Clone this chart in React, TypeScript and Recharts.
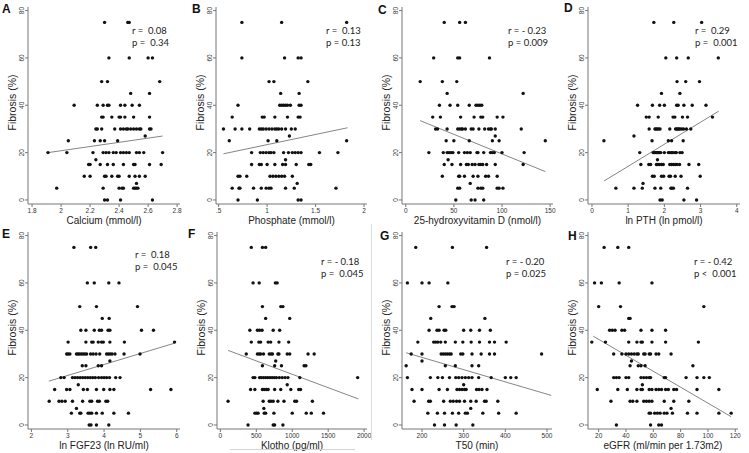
import React from 'react';
import { ScatterChart, Scatter, XAxis, YAxis, ReferenceLine, Label } from 'recharts';

// each row: [fibrosis %, x values of the biopsies at that level]
type Row = [number, number[]];

const calciumRows: Row[] = [
  [75, [2.3, 2.46, 2.47]],
  [60, [2.33, 2.47, 2.6, 2.63]],
  [50, [2.28, 2.32, 2.68]],
  [45, [2.48, 2.61]],
  [40, [2.09, 2.25, 2.29, 2.32, 2.33, 2.41, 2.44, 2.49, 2.54]],
  [35, [2.28, 2.29, 2.35, 2.4, 2.41, 2.44, 2.5, 2.61]],
  [30, [2.24, 2.25, 2.28, 2.37, 2.41, 2.43, 2.45, 2.46, 2.48, 2.5, 2.52, 2.54, 2.55, 2.61, 2.62]],
  [27, [2.58]],
  [25, [2.05, 2.23, 2.27, 2.3, 2.39]],
  [20, [1.91, 2.04, 2.22, 2.29, 2.31, 2.33, 2.36, 2.38, 2.41, 2.43, 2.45, 2.47, 2.52, 2.54, 2.57, 2.7]],
  [17, [2.24]],
  [15, [2.19, 2.2, 2.27, 2.32, 2.36, 2.43, 2.5, 2.51, 2.61, 2.69]],
  [10, [2.16, 2.2, 2.3, 2.31, 2.35, 2.39, 2.4, 2.47, 2.51, 2.54, 2.58]],
  [7, [2.52]],
  [5, [1.97, 2.29, 2.4, 2.42, 2.43, 2.5, 2.51, 2.52, 2.53]],
  [0, [2.3, 2.32, 2.41, 2.63]],
];

const phosphateRows: Row[] = [
  [75, [0.74, 1.15, 1.82]],
  [60, [0.74, 1.18, 1.32, 1.35]],
  [50, [1.02, 1.07, 1.42]],
  [45, [1.14, 1.33]],
  [40, [0.7, 1.13, 1.15, 1.17, 1.19, 1.21, 1.24, 1.33, 1.35]],
  [35, [0.64, 0.95, 0.97, 1.08, 1.21, 1.32, 1.34]],
  [30, [0.55, 0.67, 0.74, 0.82, 0.92, 0.94, 0.96, 0.99, 1.02, 1.05, 1.08, 1.1, 1.12, 1.15, 1.19, 1.25, 1.29]],
  [27, [1.23]],
  [25, [0.61, 1.01, 1.1, 1.82]],
  [20, [0.84, 0.93, 0.96, 0.99, 1.02, 1.04, 1.07, 1.17, 1.22, 1.26, 1.29, 1.32, 1.35, 1.54, 1.73]],
  [17, [1.19]],
  [15, [0.84, 0.92, 0.94, 1.0, 1.08, 1.16, 1.19, 1.3, 1.43, 1.45]],
  [10, [0.7, 0.72, 0.79, 1.03, 1.06, 1.09, 1.12, 1.15, 1.18, 1.26]],
  [7, [1.31]],
  [5, [0.64, 0.71, 0.72, 0.86, 0.94, 0.99, 1.02, 1.04, 1.19, 1.28, 1.71]],
  [0, [0.7, 0.9, 1.32, 1.35]],
];

const vitaminDRows: Row[] = [
  [75, [40, 56, 62]],
  [60, [29, 54, 56, 87]],
  [50, [15, 38, 53]],
  [45, [43, 122]],
  [40, [35, 46, 54, 66, 73, 75, 77, 79]],
  [35, [28, 36, 57, 71, 78, 80, 95, 101]],
  [30, [31, 33, 43, 54, 56, 58, 59, 62, 68, 70, 76, 82, 86, 88, 89, 93, 120]],
  [27, [93]],
  [25, [42, 50, 66, 90, 97, 145]],
  [20, [24, 39, 43, 45, 47, 49, 55, 61, 64, 67, 74, 75, 81, 88, 90, 92, 100, 123]],
  [17, [44]],
  [15, [40, 48, 57, 63, 65, 69, 72, 76, 78, 80, 84, 93, 122]],
  [10, [38, 55, 56, 61, 70, 75, 83, 86, 95]],
  [7, [67]],
  [5, [54, 56, 75, 78, 80, 95, 97, 101]],
  [0, [52, 68, 72, 81]],
];

const pthRows: Row[] = [
  [75, [1.71, 2.26, 3.03]],
  [60, [2.04, 2.34, 2.66, 3.49]],
  [50, [2.35, 2.59, 2.97]],
  [45, [1.92, 2.43]],
  [40, [1.26, 1.67, 1.87, 2.0, 2.34, 2.38, 2.54, 2.77, 3.15]],
  [35, [1.5, 1.58, 1.83, 2.24, 2.29, 2.5, 2.64, 3.33]],
  [30, [1.58, 1.74, 1.77, 1.8, 1.84, 1.88, 2.15, 2.31, 2.34, 2.37, 2.4, 2.43, 2.48, 2.53, 2.61, 2.73]],
  [27, [1.16]],
  [25, [0.33, 1.66, 2.11, 2.2, 2.52]],
  [20, [1.32, 1.69, 1.72, 1.75, 1.78, 1.81, 1.84, 1.87, 1.9, 2.0, 2.11, 2.15, 2.2, 2.24, 2.3, 2.33, 2.43, 2.49]],
  [17, [1.81]],
  [15, [1.35, 1.57, 1.62, 1.78, 1.82, 1.86, 1.92, 1.97, 2.15, 2.2, 2.25, 2.3, 2.35, 2.42, 2.68, 2.95]],
  [10, [1.67, 1.72, 1.92, 1.98, 2.13, 2.17, 2.3, 2.46, 2.99]],
  [7, [1.41]],
  [5, [0.66, 1.16, 1.39, 1.74, 1.9, 2.18, 2.21, 2.25, 2.64]],
  [0, [1.88, 1.94, 2.54, 2.89]],
];

const fgf23Rows: Row[] = [
  [75, [3.17, 3.63, 3.77]],
  [60, [3.54, 3.73, 4.13, 4.41]],
  [50, [3.33, 3.79, 4.92]],
  [45, [3.95, 4.14]],
  [40, [3.36, 3.5, 3.73, 3.87, 3.93, 4.11, 4.16, 5.03, 5.36]],
  [35, [3.01, 3.5, 3.66, 3.7, 3.84, 3.93, 3.98, 4.16, 4.56, 5.94]],
  [30, [2.97, 3.01, 3.06, 3.24, 3.28, 3.32, 3.37, 3.42, 3.47, 3.52, 3.63, 3.7, 3.78, 3.88, 4.07, 4.12, 4.17, 4.22, 4.3, 4.55, 4.99]],
  [27, [4.16]],
  [25, [3.4, 3.5, 3.84, 3.93]],
  [20, [2.81, 2.9, 3.13, 3.2, 3.27, 3.34, 3.41, 3.48, 3.55, 3.62, 3.69, 3.76, 3.85, 3.93, 4.0, 4.07, 4.15, 4.32, 4.44]],
  [17, [3.29]],
  [15, [2.64, 2.97, 3.06, 3.43, 3.54, 3.79, 3.99, 4.16, 4.27, 5.28, 5.84]],
  [10, [2.49, 2.76, 2.84, 2.93, 3.13, 3.41, 3.61, 3.66, 3.82, 3.87, 4.05, 4.1]],
  [7, [3.24]],
  [5, [3.1, 3.33, 3.36, 3.56, 3.61, 3.66, 3.79, 3.95, 4.27, 4.67]],
  [0, [3.59, 3.64, 3.79, 4.13]],
];

const klothoRows: Row[] = [
  [75, [430, 585, 630]],
  [60, [455, 540, 765, 790]],
  [50, [585, 840, 870]],
  [45, [630, 965]],
  [40, [410, 515, 545, 580, 735, 825]],
  [35, [430, 535, 560, 665, 700, 815, 950]],
  [30, [360, 515, 540, 560, 600, 680, 705, 725, 800, 815, 930, 965, 1220, 1305]],
  [27, [770]],
  [25, [585, 755, 850, 1165, 1190]],
  [20, [455, 480, 545, 570, 600, 630, 660, 690, 720, 750, 780, 820, 860, 900, 940, 1105, 1910]],
  [17, [930]],
  [15, [420, 480, 585, 610, 640, 665, 755, 840, 980, 1090, 1115]],
  [10, [107, 595, 680, 705, 735, 800, 885, 1035, 1060, 1280]],
  [7, [605]],
  [5, [480, 505, 525, 610, 630, 745, 1000, 1195, 1265, 1435]],
  [0, [385, 735, 755, 870]],
];

const t50Rows: Row[] = [
  [75, [185, 273, 355]],
  [60, [165, 200, 217, 262]],
  [50, [241, 272, 277]],
  [45, [221, 351]],
  [40, [217, 236, 241, 253, 257, 300, 317, 338, 364]],
  [35, [190, 228, 233, 238, 245, 256, 280, 298, 318, 338, 362, 374, 402]],
  [30, [174, 200, 246, 251, 256, 261, 266, 270, 293, 298, 320, 342, 362, 374, 487]],
  [27, [200]],
  [25, [162, 256, 280, 320, 336]],
  [20, [165, 220, 238, 249, 266, 281, 288, 296, 304, 312, 320, 336, 366, 400, 413, 426]],
  [17, [300]],
  [15, [176, 200, 241, 261, 284, 290, 296, 302, 306, 331, 337, 344, 356]],
  [10, [181, 216, 220, 252, 268, 275, 283, 290, 302, 317, 330, 350, 354, 382]],
  [7, [317]],
  [5, [214, 237, 254, 273, 288, 304, 309, 346, 384, 426]],
  [0, [230, 254, 282, 322]],
];

const egfrRows: Row[] = [
  [75, [24, 34, 42]],
  [60, [17, 22, 35, 59]],
  [50, [20, 36, 97]],
  [45, [42, 43]],
  [40, [28, 30, 32, 37, 39, 51, 59, 69]],
  [35, [15, 25, 42, 48, 51, 52, 59, 69, 93]],
  [30, [31, 37, 40, 42, 44, 46, 48, 49, 53, 54, 57, 58, 62, 64, 73]],
  [27, [44]],
  [25, [43, 49, 51, 54, 89]],
  [20, [31, 33, 35, 40, 42, 51, 53, 55, 57, 58, 68, 69, 84, 92, 97, 101]],
  [17, [52]],
  [15, [19, 34, 41, 48, 51, 52, 57, 59, 62, 64, 66, 69, 71, 75, 77, 92, 108]],
  [10, [29, 43, 45, 48, 53, 55, 57, 59, 68, 75, 86]],
  [7, [73]],
  [5, [57, 58, 61, 63, 65, 68, 70, 74, 85, 92, 108, 117]],
  [0, [33, 58, 64, 66]],
];

// fitted regression lines: [x1, y1, x2, y2]
const fitLines: [number, number, number, number][] = [
  [1.91, 20, 2.7, 27],
  [0.55, 19.5, 1.83, 30.5],
  [15, 33.5, 145, 12],
  [0.33, 8, 3.5, 37.5],
  [2.48, 18.5, 5.93, 34.5],
  [107, 31.5, 1920, 11],
  [162, 30.5, 510, 12.5],
  [16, 37.5, 117, 3.5],
];

const xTicks = [
  [1.8, 2, 2.2, 2.4, 2.6, 2.8],
  [0.5, 1, 1.5, 2],
  [0, 50, 100, 150],
  [0, 1, 2, 3, 4],
  [2, 3, 4, 5, 6],
  [0, 500, 1000, 1500, 2000],
  [200, 300, 400, 500],
  [20, 40, 60, 80, 100, 120],
];
const yTicks = [0, 20, 40, 60, 80];

const letters = ['A', 'B', 'C', 'D', 'E', 'F', 'G', 'H'];
const xTitles = [
  'Calcium (mmol/l)',
  'Phosphate (mmol/l)',
  '25-hydroxyvitamin D (nmol/l)',
  'ln PTH (ln pmol/l)',
  'ln FGF23 (ln RU/ml)',
  'Klotho (pg/ml)',
  'T50 (min)',
  'eGFR (ml/min per 1.73m2)',
];
const yTitle = 'Fibrosis (%)';
const rTexts = ['r =  0.08', 'r =  0.13', 'r = - 0.23', 'r =  0.29', 'r =  0.18', 'r = - 0.18', 'r = - 0.20', 'r = - 0.42'];
const pTexts = ['p =  0.34', 'p = 0.13', 'p = 0.009', 'p =  0.001', 'p =  0.045', 'p =  0.045', 'p = 0.025', 'p <  0.001'];

const rowsList = [calciumRows, phosphateRows, vitaminDRows, pthRows, fgf23Rows, klothoRows, t50Rows, egfrRows];

// layout for each panel: y-axis x position, x domain, plot width, row, text spots
const layout = [
  { axisX: 28, domain: [1.772, 2.82], w: 152, row: 0, letter: [6, 9], stat: [132, 31] },
  { axisX: 216, domain: [0.473, 2.03], w: 151, row: 0, letter: [196, 9], stat: [326, 31] },
  { axisX: 402, domain: [-3.9, 153], w: 151, row: 0, letter: [382, 10], stat: [508, 31] },
  { axisX: 588, domain: [-0.11, 4.09], w: 152, row: 0, letter: [568, 8], stat: [695, 31] },
  { axisX: 28, domain: [1.906, 6.09], w: 152, row: 1, letter: [6, 234], stat: [135, 255] },
  { axisX: 217, domain: [-47, 2040], w: 150, row: 1, letter: [192, 234], stat: [321, 262] },
  { axisX: 402, domain: [152, 512], w: 150, row: 1, letter: [384, 236], stat: [506, 262] },
  { axisX: 588, domain: [12.2, 122], w: 150, row: 1, letter: [572, 236], stat: [694, 262] },
];

const AXIS = '#777';
const fmt = (v: number) => String(v).replace(/^0\./, '.');

const Dot = (props: any) => <circle cx={props.cx} cy={props.cy} r={1.7} fill="#111" />;

const YTick = (props: any) => {
  const { x, y, payload } = props;
  return (
    <text x={x} y={y} transform={`rotate(-90 ${x} ${y})`} textAnchor="middle" dominantBaseline="central" fontSize={6.5} fill="#333">
      {payload.value}
    </text>
  );
};

const PLOT_H = 197;

const Panel = ({ i }: { i: number }) => {
  const L = layout[i];
  const data = rowsList[i].flatMap(([y, xs]) => xs.map((x) => ({ x, y })));
  const [x1, y1, x2, y2] = fitLines[i];
  const W = 30 + L.w + 10;
  const H = 2 + PLOT_H + 24;
  const top = L.row === 0 ? 5 : 230;
  const ty = 2 + PLOT_H / 2 - 3;
  return (
    <div style={{ position: 'absolute', left: L.axisX - 30, top, width: W, height: H }}>
      <ScatterChart width={W} height={H} margin={{ top: 2, right: 10, left: 0, bottom: 0 }}>
        <XAxis
          type="number"
          dataKey="x"
          domain={L.domain}
          ticks={xTicks[i]}
          interval={0}
          allowDataOverflow
          tickFormatter={fmt}
          tickSize={3}
          tickMargin={1}
          height={24}
          stroke={AXIS}
          tick={{ fontSize: 6.5, fill: '#333' }}
        >
          <Label value={xTitles[i]} position="insideBottom" offset={4} fontSize={10} fill="#222" />
        </XAxis>
        <YAxis
          type="number"
          dataKey="y"
          domain={[-1.7, 81.5]}
          ticks={yTicks}
          interval={0}
          allowDataOverflow
          width={30}
          tickSize={3}
          tickMargin={3}
          stroke={AXIS}
          tick={<YTick />}
        >
          <Label
            content={() => (
              <text x={14} y={ty} transform={`rotate(-90 14 ${ty})`} textAnchor="middle" dominantBaseline="central" fontSize={10.5} fill="#222">
                {yTitle}
              </text>
            )}
          />
        </YAxis>
        <Scatter data={data} shape={Dot} isAnimationActive={false} />
        <ReferenceLine segment={[{ x: x1, y: y1 }, { x: x2, y: y2 }]} stroke="#666" strokeWidth={0.8} />
      </ScatterChart>
    </div>
  );
};

export default function App() {
  return (
    <div
      style={{
        position: 'absolute',
        left: 0,
        top: 0,
        width: 749,
        height: 453,
        background: '#fff',
        overflow: 'hidden',
        fontFamily: '"Liberation Sans", Arial, sans-serif',
      }}
    >
      {layout.map((_, i) => (
        <Panel key={i} i={i} />
      ))}
      {layout.map((L, i) => (
        <div
          key={'l' + i}
          style={{ position: 'absolute', left: L.letter[0] - 4, top: L.letter[1] - 7, fontSize: 12, fontWeight: 700, color: '#111', lineHeight: '14px' }}
        >
          {letters[i]}
        </div>
      ))}
      {layout.map((L, i) => (
        <div
          key={'s' + i}
          style={{ position: 'absolute', left: L.stat[0], top: L.stat[1] - 6, fontSize: 9.5, color: '#222', fontFamily: 'Lato, sans-serif', lineHeight: '12px', whiteSpace: 'pre' }}
        >
          {rTexts[i]}
          {'\n'}
          {pTexts[i]}
        </div>
      ))}
      <div style={{ position: 'absolute', left: 230, top: 449, width: 125, height: 1, background: '#d4d4d4' }} />
      <div style={{ position: 'absolute', left: 371, top: 224, width: 1, height: 216, background: '#dcdcdc' }} />
    </div>
  );
}
